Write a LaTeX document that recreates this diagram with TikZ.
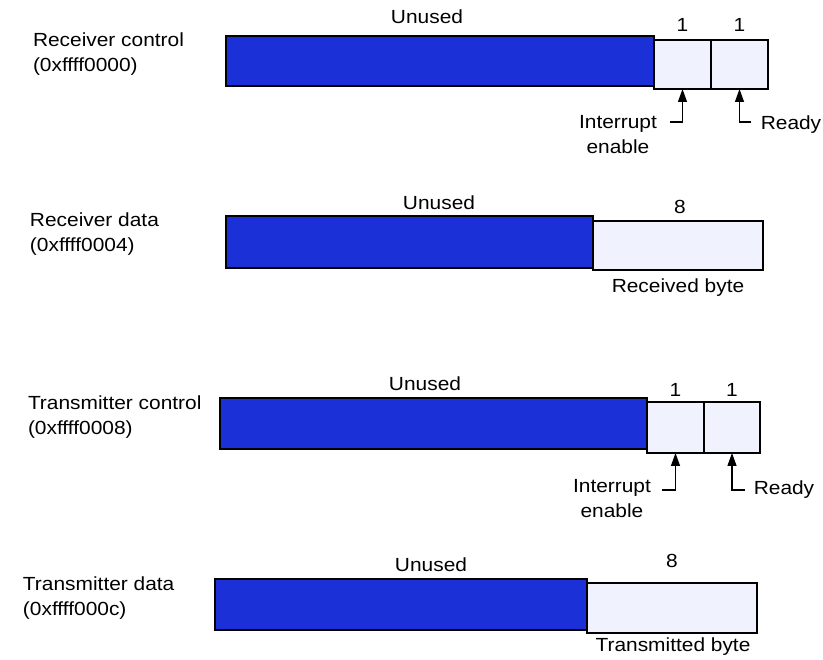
\documentclass[tikz,border=0pt]{standalone}
\usepackage{fontspec}
\setmainfont[FakeStretch=1.1]{Liberation Sans}
\usetikzlibrary{arrows.meta}
\definecolor{regblue}{RGB}{28,48,215}
\definecolor{bitfill}{RGB}{240,243,253}
\begin{document}
\begin{tikzpicture}[x=1pt,y=-1pt,
  txt/.style={font=\fontsize{19}{25}\selectfont, inner sep=0pt, outer sep=0pt},
  reglabel/.style={txt, anchor=west, align=left},
  unusedbox/.style={fill=regblue, draw=black, line width=1.2pt, inner sep=0pt, outer sep=0pt},
  bitbox/.style={fill=bitfill, draw=black, line width=1.2pt, inner sep=0pt, outer sep=0pt},
  ptr/.style={line width=1.3pt, -{Triangle[length=13pt,width=9pt]}}]
\useasboundingbox (0,0) rectangle (823,660);

% ---------- Receiver control ----------
\node[reglabel] (l1) at (33,54) {Receiver control\\(0xffff0000)};
\node[unusedbox, minimum width=428pt, minimum height=50pt] (u1) at (440,61) {};
\node[bitbox, minimum width=57pt, minimum height=49pt] (b1a) at (682.5,64.5) {};
\node[bitbox, minimum width=57pt, minimum height=49pt] (b1b) at (739.5,64.5) {};
\node[txt] (un1) at (427,17) {Unused};
\node[txt] (w1a) at (682.5,25) {1};
\node[txt] (w1b) at (739.5,25) {1};
\coordinate (h1a) at (670,122);
\coordinate (h1b) at (751,122);
\draw[ptr] (h1a) -| (b1a.south);
\draw[ptr] (h1b) -| (b1b.south);
\node[txt, align=center] (ie1) at (618,134.5) {Interrupt\\enable};
\node[txt] (rd1) at (791,125) {Ready};

% ---------- Receiver data ----------
\node[reglabel] (l2) at (30,234.5) {Receiver data\\(0xffff0004)};
\node[unusedbox, minimum width=367pt, minimum height=52pt] (u2) at (409.5,242) {};
\node[bitbox, minimum width=170pt, minimum height=49pt] (b2) at (678,245.5) {};
\node[txt] (un2) at (439,203) {Unused};
\node[txt] (w2) at (680,207) {8};
\node[txt] (rb2) at (678,288) {Received byte};

% ---------- Transmitter control ----------
\node[reglabel] (l3) at (28,417.5) {Transmitter control\\(0xffff0008)};
\node[unusedbox, minimum width=427pt, minimum height=51pt] (u3) at (433.5,423.5) {};
\node[bitbox, minimum width=57pt, minimum height=51pt] (b3a) at (675.5,427.5) {};
\node[bitbox, minimum width=56pt, minimum height=51pt] (b3b) at (732,427.5) {};
\node[txt] (un3) at (425,384) {Unused};
\node[txt] (w3a) at (675.5,390) {1};
\node[txt] (w3b) at (732,390) {1};
\coordinate (h3a) at (662,490);
\coordinate (h3b) at (745,490);
\draw[ptr] (h3a) -| (b3a.south);
\draw[ptr] (h3b) -| (b3b.south);
\node[txt, align=center] (ie3) at (612,499) {Interrupt\\enable};
\node[txt] (rd3) at (784,490) {Ready};

% ---------- Transmitter data ----------
\node[reglabel] (l4) at (23,598.5) {Transmitter data\\(0xffff000c)};
\node[unusedbox, minimum width=372pt, minimum height=51pt] (u4) at (401,604.5) {};
\node[bitbox, minimum width=170pt, minimum height=50pt] (b4) at (672,608) {};
\node[txt] (un4) at (431,565) {Unused};
\node[txt] (w4) at (672,561) {8};
\node[txt] (tb4) at (673,647) {Transmitted byte};
\end{tikzpicture}
\end{document}
